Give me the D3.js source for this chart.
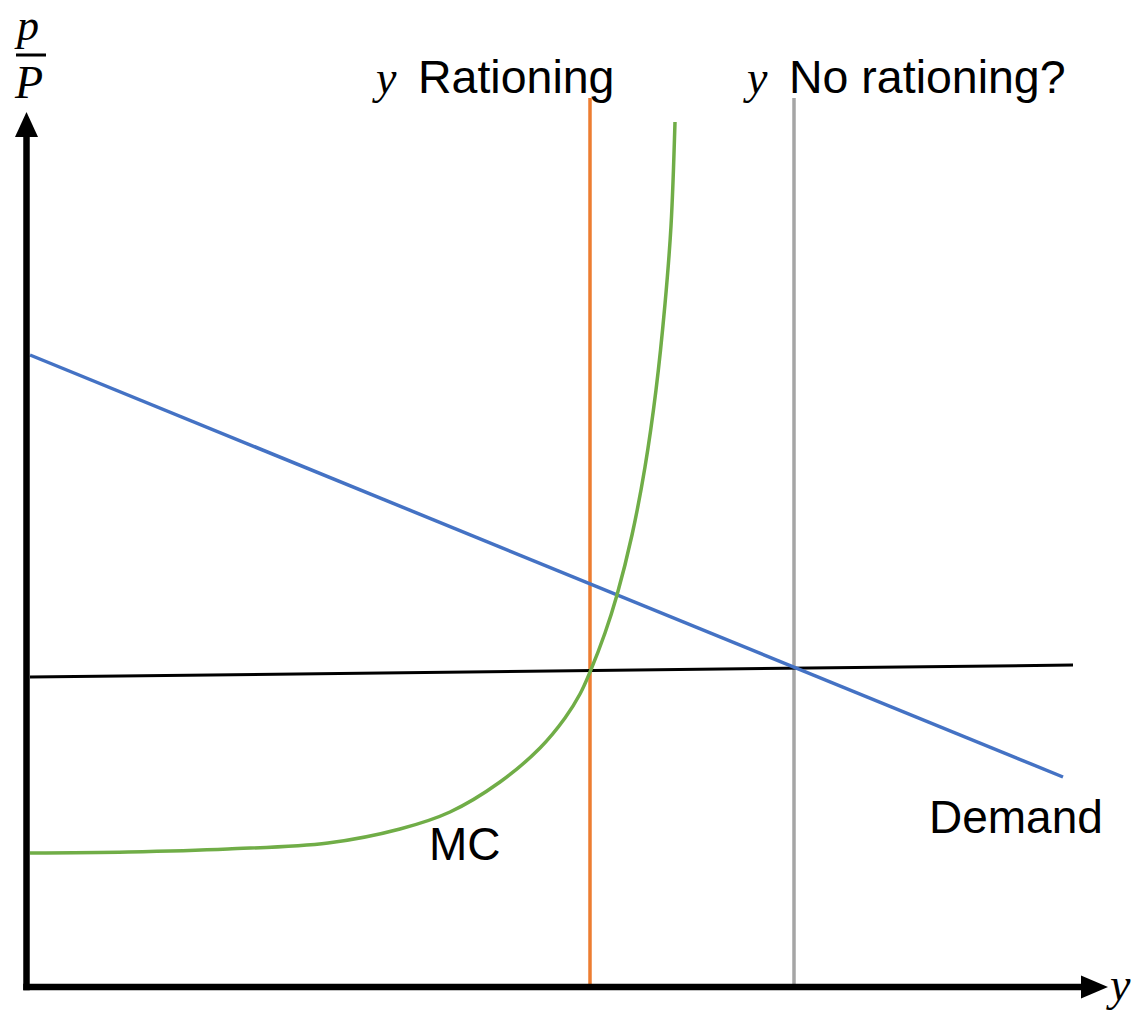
<!DOCTYPE html>
<html>
<head>
<meta charset="utf-8">
<script src="https://cdn.jsdelivr.net/npm/d3@7"></script>
<style>
  html, body { margin: 0; padding: 0; background: #fff; }
  svg { display: block; }
</style>
</head>
<body>
<script>
// ---- data (chart units) ----
const demandX = [2, 1035];
const demandY = [632, 210];
const priceX = [2, 1045];
const priceY = [310, 322];
const mcX = [2, 100, 200, 300, 372, 422, 472, 512, 537, 552, 562, 577, 589, 604, 617, 628, 637, 643, 647];
const mcY = [134, 135, 138, 144, 158, 175, 205, 239, 269, 293, 315, 354, 392, 452, 520, 597, 683, 761, 865];
const rationX = 562;
const noRationX = 766;
const verticalTop = 889;
const labels = { rationing: "Rationing", noRationing: "No rationing?", mc: "MC", demand: "Demand" };

const W = 1134, H = 1014;
const svg = d3.select("body").append("svg").attr("width", W).attr("height", H);

const x = d3.scaleLinear().domain([0, 1080]).range([28, 1108]);
const y = d3.scaleLinear().domain([0, 875]).range([987, 112]);

const line = d3.line().x(d => x(d[0])).y(d => y(d[1]));

// vertical lines
svg.append("path")
  .attr("d", line([[rationX, 0], [rationX, verticalTop]]))
  .attr("stroke", "#ED7D31").attr("stroke-width", 3.5).attr("fill", "none");
svg.append("path")
  .attr("d", line([[noRationX, 0], [noRationX, verticalTop]]))
  .attr("stroke", "#A5A5A5").attr("stroke-width", 3.5).attr("fill", "none");

// price line
svg.append("path")
  .attr("d", line(priceX.map((v, i) => [v, priceY[i]])))
  .attr("stroke", "#000").attr("stroke-width", 3).attr("fill", "none");

// demand
svg.append("path")
  .attr("d", line(demandX.map((v, i) => [v, demandY[i]])))
  .attr("stroke", "#4472C4").attr("stroke-width", 3.5).attr("fill", "none");

// MC
svg.append("path")
  .attr("d", d3.line().x(d => x(d[0])).y(d => y(d[1])).curve(d3.curveCatmullRom.alpha(0.5))(mcX.map((v, i) => [v, mcY[i]])))
  .attr("stroke", "#70AD47").attr("stroke-width", 3.5).attr("fill", "none");

// axes
const axisW = 6.5;
svg.append("line").attr("x1", x(0) - 1.5).attr("x2", x(0) - 1.5).attr("y1", y(0) + axisW / 2).attr("y2", y(850))
  .attr("stroke", "#000").attr("stroke-width", axisW);
svg.append("line").attr("x1", x(0) - 1.5 - axisW / 2).attr("x2", x(1055)).attr("y1", y(0)).attr("y2", y(0))
  .attr("stroke", "#000").attr("stroke-width", axisW);
// arrow heads
const ax = x(0) - 1.5;
svg.append("path")
  .attr("d", `M${ax},${y(875)} L${ax - 11.5},${y(850)} L${ax + 11.5},${y(850)} Z`).attr("fill", "#000");
const ay = y(0);
svg.append("path")
  .attr("d", `M${x(1080)},${ay} L${x(1053)},${ay - 11.5} L${x(1053)},${ay + 11.5} Z`).attr("fill", "#000");

const serif = "'Liberation Serif', 'DejaVu Serif', serif";
const sans = "'Liberation Sans', Arial, sans-serif";

// axis labels
svg.append("text").attr("x", 17).attr("y", 40).attr("font-family", serif).attr("font-style", "italic")
  .attr("font-size", 44).text("p");
svg.append("line").attr("x1", 16).attr("x2", 46).attr("y1", 55).attr("y2", 55).attr("stroke", "#000").attr("stroke-width", 3);
svg.append("text").attr("x", 15).attr("y", 98).attr("font-family", serif).attr("font-style", "italic")
  .attr("font-size", 46).text("P");
svg.append("text").attr("x", x(1082)).attr("y", 1000).attr("font-family", serif).attr("font-style", "italic")
  .attr("font-size", 46).text("y");

// top labels
svg.append("text").attr("x", x(rationX) - 214).attr("y", 93).attr("font-family", serif).attr("font-style", "italic")
  .attr("font-size", 46).text("y");
svg.append("text").attr("x", x(rationX) - 172).attr("y", 93).attr("font-family", sans)
  .attr("font-size", 46.5).text(labels.rationing);
svg.append("text").attr("x", x(noRationX) - 47).attr("y", 93).attr("font-family", serif).attr("font-style", "italic")
  .attr("font-size", 46).text("y");
svg.append("text").attr("x", x(noRationX) - 5).attr("y", 93).attr("font-family", sans)
  .attr("font-size", 46.5).text(labels.noRationing);

// curve labels
svg.append("text").attr("x", 429).attr("y", 860).attr("font-family", sans).attr("font-size", 46).text(labels.mc);
svg.append("text").attr("x", 929).attr("y", 833).attr("font-family", sans).attr("font-size", 46).text(labels.demand);
</script>
</body>
</html>
